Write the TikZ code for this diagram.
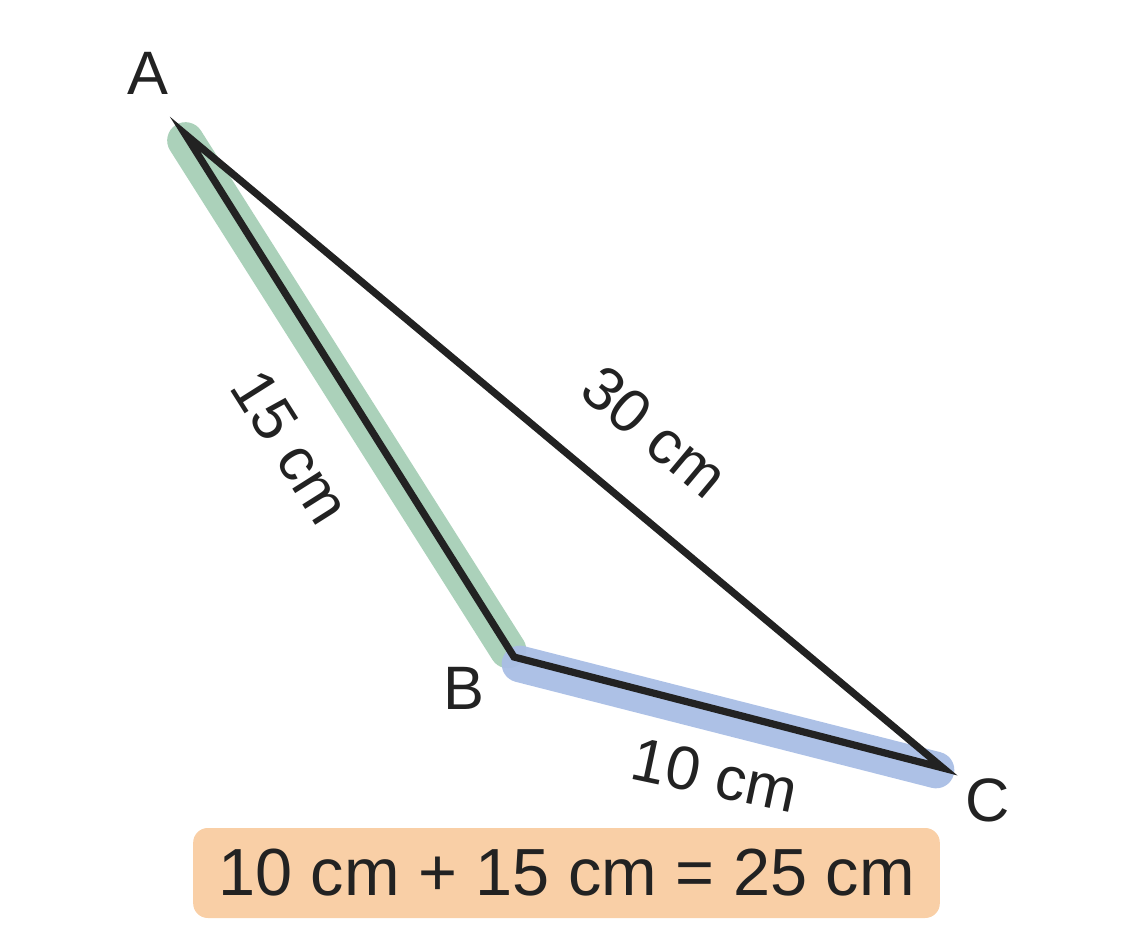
\documentclass[tikz,border=0pt]{standalone}
\usepackage{fontspec}
\setmainfont{Liberation Sans}
\definecolor{bandgreen}{HTML}{ABD1BA}
\definecolor{bandblue}{HTML}{A9BEE5}
\definecolor{boxorange}{HTML}{F9CFA6}
\definecolor{ink}{HTML}{222222}
\tikzset{
  band/.style={line width=#1, line cap=round},
  edge/.style={draw=ink, line width=5.4pt, line join=miter},
  vlabel/.style={text=ink, font=\fontsize{46}{50}\selectfont, inner sep=0pt},
  elabel/.style={text=ink, font=\fontsize{46}{50}\selectfont, inner sep=0pt},
  sumbox/.style={fill=boxorange, rounded corners=11pt, minimum width=560pt, minimum height=67.5pt, text=ink, font=\fontsize{50}{55}\selectfont, inner sep=0pt}
}
\begin{document}
\begin{tikzpicture}[x=0.75pt,y=-0.75pt]
\useasboundingbox (0,0) rectangle (1133,928);
\coordinate (A) at (185,134);
\coordinate (B) at (514,657);
\coordinate (C) at (943,768);
\coordinate (g1) at (185.5,140.5);
\coordinate (g2) at (508,650);
\coordinate (b1) at (520,664);
\coordinate (b2) at (936,770);
\draw[band=27.5pt, bandgreen] (g1) -- (g2);
\draw[band=27.5pt, bandblue, opacity=0.95] (b1) -- (b2);
\draw[edge] (A) -- (B) -- (C) -- cycle;
\node[vlabel] (la) at (148,73) {A};
\node[vlabel] (lb) at (464,688) {B};
\node[vlabel] (lc) at (988,800) {C};
\node[elabel, rotate=-57.7] (lab) at (291,447) {15 cm};
\node[elabel, rotate=-39.9] (lac) at (655,432) {30 cm};
\node[elabel, rotate=-12] (lbc) at (715,775) {10 cm};
\node[sumbox] (sum) at (566.5,873) {10 cm + 15 cm = 25 cm};
\end{tikzpicture}
\end{document}
